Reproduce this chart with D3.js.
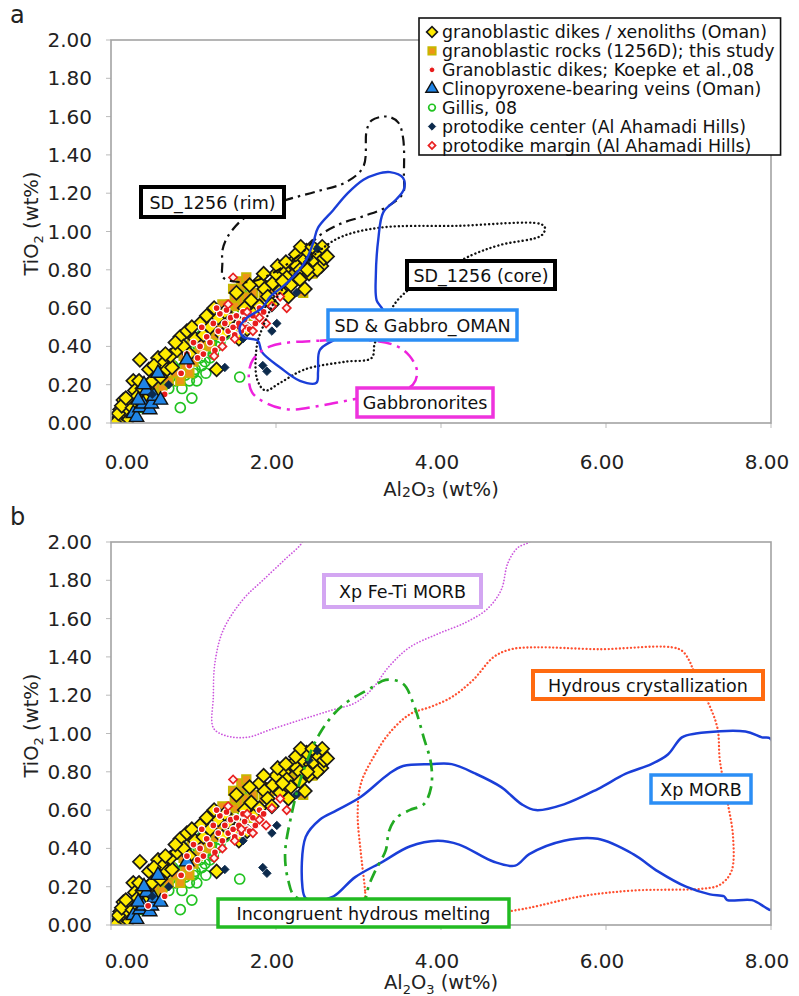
<!DOCTYPE html>
<html>
<head>
<meta charset="utf-8">
<script src="https://cdnjs.cloudflare.com/ajax/libs/d3/7.8.5/d3.min.js"></script>
<style>
  body { margin: 0; background: #fff; }
  svg { display: block; font-family: "DejaVu Sans", Verdana, sans-serif; }
</style>
</head>
<body>
<svg id="chart" width="799" height="996"></svg>
<script>
// ---- data: [Al2O3 wt%, TiO2 wt%] ----
const omanDikes = [[0.08,0.01],[0.10,0.03],[0.12,0.02],[0.14,0.05],[0.11,0.07],[0.17,0.08],[0.19,0.04],[0.21,0.06],
  [0.15,0.12],[0.24,0.10],[0.27,0.22],[0.29,0.17],[0.35,0.33],[0.32,0.14],[0.38,0.18],[0.42,0.12],[0.45,0.20],
  [0.50,0.22],[0.57,0.34],[0.63,0.31],[0.55,0.26],[0.60,0.24],[0.68,0.28],[0.74,0.29],[0.72,0.35],[0.80,0.38],
  [0.84,0.45],[0.92,0.48],[0.88,0.40],[0.95,0.36],[1.02,0.44],[1.08,0.52],[1.12,0.46],[1.20,0.50],[1.28,0.28],
  [1.30,0.55],[1.38,0.58],[1.45,0.52],[1.48,0.49],[1.56,0.52],[1.62,0.60],[1.65,0.49],[1.70,0.64],[1.75,0.58],
  [1.80,0.61],[1.80,0.74],[1.86,0.70],[1.90,0.66],[1.96,0.73],[2.00,0.78],[2.05,0.69],[2.10,0.80],[2.13,0.76],
  [2.18,0.72],[2.20,0.84],[2.25,0.82],[2.29,0.80],[2.29,0.75],[2.33,0.86],[2.37,0.90],[2.40,0.78],[2.42,0.84],
  [2.45,0.85],[2.49,0.90],[2.52,0.88],[2.55,0.82],[2.58,0.86],[2.62,0.87],[2.35,0.70],[2.15,0.66],[1.95,0.62],
  [1.55,0.44],[1.35,0.46],[0.05,0.00],[0.09,0.05],[0.13,0.09],[0.18,0.13],[0.22,0.02],[0.26,0.08],[0.34,0.22],
  [0.46,0.28],[0.52,0.30],[0.66,0.36],[0.78,0.42],[0.98,0.50],[1.16,0.56],[1.25,0.60],[1.52,0.68],[1.68,0.72],
  [1.85,0.78],[2.02,0.82],[2.08,0.74],[2.24,0.88],[2.30,0.92],[2.44,0.92],[2.50,0.80],[2.56,0.92],[2.38,0.80],
  [2.12,0.84]];
const rocks1256D = [[0.20,0.06],[0.30,0.10],[0.40,0.12],[0.50,0.16],[0.55,0.20],[0.62,0.18],[0.70,0.22],[0.78,0.26],
  [0.84,0.22],[0.90,0.30],[0.95,0.26],[1.00,0.32],[1.05,0.36],[1.08,0.38],[1.12,0.42],[1.20,0.40],[1.25,0.46],
  [1.32,0.50],[1.40,0.54],[1.45,0.62],[1.50,0.66],[1.52,0.61],[1.55,0.70],[1.56,0.69],[1.60,0.64],[1.62,0.72],
  [1.65,0.66],[1.68,0.60],[1.70,0.56],[1.78,0.62],[1.85,0.66],[1.95,0.70],[2.05,0.74],[2.15,0.78],[2.22,0.76],
  [2.30,0.82],[2.33,0.68],[2.40,0.84],[2.48,0.86],[2.53,0.90],[2.58,0.88],[0.72,0.30],[0.88,0.35],[1.18,0.48],
  [1.42,0.58],[1.58,0.74],[1.64,0.76],[1.48,0.70],[1.72,0.68],[1.90,0.72],[2.10,0.70],[2.26,0.80],[2.44,0.78],
  [0.98,0.44],[1.28,0.52],[0.60,0.26],[0.46,0.14],[1.35,0.62],[2.36,0.88]];
const koepke08 = [[0.65,0.15],[0.45,0.10],[0.85,0.26],[0.95,0.30],[1.05,0.34],[1.08,0.40],[1.12,0.36],[1.16,0.45],
  [1.20,0.42],[1.24,0.52],[1.26,0.38],[1.30,0.48],[1.32,0.57],[1.35,0.44],[1.38,0.52],[1.40,0.59],[1.42,0.48],
  [1.45,0.55],[1.48,0.50],[1.50,0.46],[1.52,0.56],[1.55,0.52],[1.58,0.48],[1.60,0.58],[1.62,0.54],[1.65,0.50],
  [1.68,0.49],[1.72,0.56],[1.75,0.52],[1.80,0.60],[1.85,0.58],[1.10,0.50],[1.28,0.60],[1.00,0.42],[0.92,0.36]];
const cpxVeins = [[0.27,0.05],[0.31,0.03],[0.35,0.08],[0.39,0.10],[0.43,0.17],[0.47,0.07],[0.49,0.10],[0.52,0.14],
  [0.57,0.26],[0.60,0.12],[0.92,0.33],[0.40,0.20],[0.33,0.12]];
const gillis08 = [[0.20,0.08],[0.25,0.12],[0.30,0.10],[0.35,0.15],[0.40,0.14],[0.45,0.18],[0.50,0.20],[0.55,0.17],
  [0.58,0.22],[0.62,0.25],[0.65,0.20],[0.68,0.28],[0.72,0.24],[0.75,0.30],[0.78,0.22],[0.80,0.32],[0.84,0.08],
  [0.85,0.28],[0.88,0.36],[0.90,0.25],[0.92,0.40],[0.95,0.32],[0.98,0.13],[1.00,0.38],[1.02,0.28],[1.04,0.22],
  [1.05,0.42],[1.08,0.34],[1.10,0.30],[1.12,0.44],[1.15,0.38],[1.18,0.46],[1.20,0.34],[1.22,0.42],[1.25,0.48],
  [1.28,0.40],[1.30,0.45],[1.34,0.50],[1.38,0.46],[1.42,0.52],[1.48,0.58],[1.52,0.64],[1.56,0.24],[1.58,0.68],
  [1.62,0.70],[0.70,0.18],[0.95,0.22],[1.15,0.26],[0.60,0.30],[0.28,0.05],[0.38,0.08],[0.48,0.12],[0.52,0.25],
  [0.66,0.32],[0.70,0.34],[0.82,0.28],[0.86,0.18],[0.92,0.30],[1.00,0.26],[1.06,0.40],[1.10,0.46],[1.14,0.32],
  [1.24,0.36],[1.32,0.42],[1.36,0.54],[1.45,0.50],[1.50,0.60],[1.55,0.62],[1.60,0.66]];
const protoCenter = [[2.01,0.52],[1.95,0.48],[1.60,0.44],[1.84,0.30],[1.89,0.27],[1.38,0.29],[2.25,0.68],[2.50,0.91],
  [0.50,0.15],[0.70,0.20],[2.40,0.86]];
const protoMargin = [[1.48,0.76],[2.13,0.60],[1.95,0.61],[1.72,0.48],[1.80,0.55],[1.65,0.58],[1.58,0.50],[1.50,0.44],
  [1.35,0.40],[1.25,0.35],[1.42,0.62],[2.05,0.66],[1.88,0.52]];

// envelopes, panel a
const sd1256Rim = [[1.69,1.09],[2.09,1.16],[2.50,1.21],[2.86,1.26],[3.06,1.34],[3.10,1.53],[3.16,1.58],[3.35,1.60],
  [3.48,1.57],[3.54,1.49],[3.55,1.29],[3.54,1.20],[3.35,1.13],[3.06,1.08],[2.78,1.04],[2.53,0.98],[2.29,0.88],
  [1.99,0.79],[1.72,0.74],[1.48,0.74],[1.36,0.76],[1.35,0.84],[1.35,0.90],[1.41,0.97],[1.56,1.05]];
const sd1256Core = [[1.83,0.49],[1.99,0.64],[2.17,0.75],[2.50,0.89],[2.78,0.97],[3.26,1.02],[4.23,1.03],[5.20,1.04],
  [5.26,1.02],[5.22,0.98],[4.72,0.93],[4.39,0.88],[3.99,0.79],[3.62,0.70],[3.42,0.61],[3.32,0.49],[3.20,0.42],
  [3.16,0.34],[2.84,0.32],[2.35,0.28],[2.05,0.21],[1.87,0.17],[1.77,0.23],[1.77,0.41]];
const sdGabbroOman = [[3.22,1.30],[3.38,1.31],[3.54,1.28],[3.55,1.22],[3.44,1.16],[3.30,1.10],[3.24,0.96],[3.21,0.77],
  [3.22,0.64],[3.30,0.58],[3.02,0.49],[2.69,0.43],[2.53,0.38],[2.51,0.27],[2.49,0.21],[2.29,0.22],[2.05,0.29],
  [1.83,0.37],[1.78,0.43],[1.60,0.45],[1.56,0.50],[1.65,0.55],[1.83,0.60],[1.93,0.66],[2.13,0.73],[2.35,0.84],
  [2.45,0.94],[2.51,1.02],[2.69,1.11],[2.87,1.20],[3.06,1.27]];
const gabbronorites = [[1.93,0.40],[2.53,0.43],[3.18,0.43],[3.47,0.40],[3.62,0.35],[3.71,0.27],[3.66,0.20],[3.44,0.16],
  [2.90,0.12],[2.53,0.09],[2.17,0.07],[1.90,0.10],[1.71,0.16],[1.67,0.25],[1.72,0.33]];
// envelopes, panel b
const xpFeTiMorb = [[2.41,2.12],[2.32,2.00],[2.11,1.91],[1.84,1.80],[1.60,1.70],[1.36,1.54],[1.26,1.37],[1.24,1.19],
  [1.24,1.03],[1.38,0.99],[1.65,0.98],[1.93,1.02],[2.29,1.07],[2.66,1.12],[2.96,1.16],[3.16,1.23],[3.37,1.35],
  [3.62,1.45],[3.96,1.52],[4.30,1.58],[4.56,1.65],[4.73,1.75],[4.81,1.89],[4.93,1.97],[5.07,2.00],[5.20,2.06],
  [4.00,2.15]];
const hydrousCryst = [[3.10,0.05],[3.08,0.18],[3.03,0.37],[2.99,0.58],[3.03,0.74],[3.20,0.89],[3.37,1.00],[3.62,1.10],
  [3.88,1.14],[4.13,1.19],[4.39,1.28],[4.64,1.40],[4.85,1.44],[5.15,1.45],[5.90,1.44],[6.89,1.44],[7.01,1.38],
  [7.04,1.35],[7.21,1.19],[7.35,1.03],[7.38,0.86],[7.47,0.65],[7.54,0.46],[7.52,0.28],[7.38,0.21],[7.18,0.19],
  [6.33,0.18],[5.70,0.15],[5.07,0.09],[4.79,0.07],[4.11,0.04],[3.26,0.02]];
const xpMorb = [[2.32,0.20],[2.36,0.46],[2.53,0.55],[2.74,0.60],[3.03,0.67],[3.37,0.79],[3.54,0.83],[3.88,0.84],
  [4.13,0.84],[4.42,0.79],[4.73,0.72],[4.98,0.63],[5.15,0.60],[5.49,0.63],[5.90,0.71],[6.24,0.79],[6.55,0.84],
  [6.75,0.89],[6.92,0.98],[7.09,1.00],[7.69,1.01],[7.89,0.98],[8.00,0.97],[8.00,0.08],[7.94,0.09],[7.77,0.13],
  [7.47,0.13],[7.43,0.15],[7.26,0.16],[6.97,0.20],[6.63,0.28],[6.33,0.37],[5.90,0.45],[5.49,0.44],[5.07,0.37],
  [4.90,0.31],[4.64,0.33],[4.22,0.42],[3.96,0.44],[3.62,0.41],[3.29,0.33],[2.96,0.25],[2.70,0.15],[2.53,0.13],
  [2.36,0.14]];
const incongruentMelt = [[3.33,1.28],[3.54,1.26],[3.67,1.15],[3.79,0.98],[3.88,0.84],[3.88,0.72],[3.79,0.63],[3.62,0.60],
  [3.46,0.56],[3.37,0.49],[3.33,0.39],[3.20,0.28],[3.12,0.20],[3.08,0.14],[2.66,0.10],[2.23,0.15],[2.15,0.23],
  [2.11,0.37],[2.19,0.58],[2.32,0.79],[2.53,1.00],[2.79,1.14],[3.16,1.24]];

const xTicks = [0, 2, 4, 6, 8];
const yTicks = [0, 0.2, 0.4, 0.6, 0.8, 1.0, 1.2, 1.4, 1.6, 1.8, 2.0];

const legendLabels = [
  "granoblastic dikes / xenoliths (Oman)",
  "granoblastic rocks (1256D); this study",
  "Granoblastic dikes; Koepke et al.,08",
  "Clinopyroxene-bearing veins (Oman)",
  "Gillis, 08",
  "protodike center (Al Ahamadi Hills)",
  "protodike margin (Al Ahamadi Hills)"
];

// ---- styles ----
const markerStyle = {
  omanDikes:   { type: "diamond", size: 96, fill: "#ffeb00", stroke: "#1a1a1a", sw: 1.7 },
  rocks1256D:  { type: "square",  size: 72, fill: "#ee9418", stroke: "#c6b800", sw: 1.8 },
  koepke08:    { type: "circle",  size: 38, fill: "#e81c1c", stroke: "#ffffff", sw: 1.3 },
  cpxVeins:    { type: "triangle", size: 88, fill: "#1f84e6", stroke: "#111", sw: 1.4 },
  gillis08:    { type: "circle",  size: 78, fill: "none", stroke: "#22c322", sw: 1.7 },
  protoCenter: { type: "diamond", size: 36, fill: "#0c2a4c", stroke: "#0c2a4c", sw: 0.8 },
  protoMargin: { type: "diamond", size: 34, fill: "#fff0f0", stroke: "#e82020", sw: 1.7 }
};
const seriesData = { omanDikes, rocks1256D, koepke08, cpxVeins, gillis08, protoCenter, protoMargin };
const legendOrder = ["omanDikes", "rocks1256D", "koepke08", "cpxVeins", "gillis08", "protoCenter", "protoMargin"];

const symbolFor = t => t === "square" || t === "diamond" ? d3.symbolSquare
  : t === "triangle" ? d3.symbolTriangle : d3.symbolCircle;

const x = d3.scaleLinear().domain([0, 8]).range([111, 771]);
const svg = d3.select("#chart");

const panels = [
  {
    name: "a", top: 40, bottom: 423, subAxis: false, tickGap: 46, titleGap: 73,
    order: ["gillis08", "rocks1256D", "omanDikes", "koepke08", "cpxVeins", "protoCenter", "protoMargin"],
    envelopes: [
      { pts: sd1256Rim, color: "#111", width: 2.2, dash: "10,5,2.5,5" },
      { pts: sd1256Core, color: "#111", width: 2.4, dash: "0.1,4", cap: "round" },
      { pts: sdGabbroOman, color: "#1a3ed8", width: 2.4, dash: null },
      { pts: gabbronorites, color: "#ee22dd", width: 2.5, dash: "14,6,3,6" }
    ],
    labels: [
      { text: "SD_1256 (rim)", x: 141, y: 187, w: 143, h: 30, color: "#000", bw: 4 },
      { text: "SD_1256 (core)", x: 407, y: 261, w: 148, h: 28, color: "#000", bw: 4 },
      { text: "SD & Gabbro_OMAN", x: 328, y: 310, w: 189, h: 30, color: "#2b8ef5", bw: 3.5 },
      { text: "Gabbronorites", x: 357, y: 388, w: 136, h: 29, color: "#ee33dd", bw: 3.5 }
    ]
  },
  {
    name: "b", top: 542, bottom: 925, subAxis: true, tickGap: 43, titleGap: 64,
    order: ["gillis08", "rocks1256D", "omanDikes", "cpxVeins", "protoCenter", "koepke08", "protoMargin"],
    envelopes: [
      { pts: xpFeTiMorb, color: "#cc55dd", width: 1.7, dash: "0.1,3", cap: "round" },
      { pts: hydrousCryst, color: "#ff5030", width: 2.3, dash: "0.1,3.6", cap: "round" },
      { pts: xpMorb, color: "#1a3ed8", width: 2.5, dash: null },
      { pts: incongruentMelt, color: "#22aa22", width: 2.7, dash: "12,6,3,6" }
    ],
    labels: [
      { text: "Xp Fe-Ti MORB", x: 324, y: 575, w: 157, h: 32, color: "#d3a6f2", bw: 4 },
      { text: "Hydrous crystallization", x: 533, y: 671, w: 230, h: 28, color: "#ff6a10", bw: 4 },
      { text: "Xp MORB", x: 651, y: 775, w: 100, h: 28, color: "#2b8ef5", bw: 3.5 },
      { text: "Incongruent hydrous melting", x: 218, y: 899, w: 291, h: 28, color: "#22bb22", bw: 3.5 }
    ]
  }
];

function drawMarkers(g, data, st, xf, yf) {
  const sym = d3.symbol().type(symbolFor(st.type)).size(st.size);
  g.selectAll(null)
    .data(data)
    .enter()
    .append("path")
    .attr("d", sym)
    .attr("transform", d => `translate(${xf(d)},${yf(d)})` + (st.type === "diamond" ? " rotate(45)" : ""))
    .attr("fill", st.fill)
    .attr("stroke", st.stroke)
    .attr("stroke-width", st.sw);
}

panels.forEach((p, i) => {
  const y = d3.scaleLinear().domain([0, 2]).range([p.bottom, p.top]);
  const g = svg.append("g").attr("class", "panel-" + p.name);

  svg.append("clipPath").attr("id", "clip" + i)
    .append("rect")
    .attr("x", x(0)).attr("y", y(2))
    .attr("width", x(8) - x(0)).attr("height", y(0) - y(2));

  // ticks
  g.selectAll(".yt").data(yTicks).enter().append("line")
    .attr("x1", x(0) - 5).attr("x2", x(0))
    .attr("y1", d => y(d)).attr("y2", d => y(d))
    .attr("stroke", "#bbb").attr("stroke-width", 1);
  g.selectAll(".xt").data(xTicks).enter().append("line")
    .attr("x1", d => x(d)).attr("x2", d => x(d))
    .attr("y1", y(0)).attr("y2", y(0) + 5)
    .attr("stroke", "#bbb").attr("stroke-width", 1);

  // tick labels
  g.selectAll(".yl").data(yTicks).enter().append("text")
    .attr("x", 92).attr("y", d => y(d) + 7)
    .attr("text-anchor", "end")
    .attr("font-size", 20).attr("fill", "#222")
    .text(d => d3.format(".2f")(d));
  g.selectAll(".xl").data(xTicks).enter().append("text")
    .attr("x", d => d === 0 ? x(d) + 16 : x(d) - 4)
    .attr("y", y(0) + p.tickGap)
    .attr("text-anchor", "middle")
    .attr("font-size", 20).attr("fill", "#222")
    .text(d => d3.format(".2f")(d));

  // axis titles
  const xt = g.append("text")
    .attr("x", (x(0) + x(8)) / 2).attr("y", y(0) + p.titleGap)
    .attr("text-anchor", "middle").attr("font-size", 19.5).attr("fill", "#222");
  const subSize = p.subAxis ? 13 : 14, subDy = p.subAxis ? 5 : 1;
  xt.append("tspan").text("Al");
  xt.append("tspan").attr("font-size", subSize).attr("dy", subDy).text("2");
  xt.append("tspan").attr("dy", -subDy).text("O");
  xt.append("tspan").attr("font-size", subSize).attr("dy", subDy).text("3");
  xt.append("tspan").attr("dy", -subDy).text(" (wt%)");

  const cy = (y(0) + y(2)) / 2 - 8;
  const yt = g.append("text")
    .attr("transform", `translate(38,${cy}) rotate(-90)`)
    .attr("text-anchor", "middle").attr("font-size", 19.5).attr("fill", "#222");
  yt.append("tspan").text("TiO");
  yt.append("tspan").attr("font-size", 13).attr("dy", 5).text("2");
  yt.append("tspan").attr("dy", -5).text(" (wt%)");

  // panel letter
  g.append("text").attr("x", 10).attr("y", y(2) - 17)
    .attr("font-size", 24).attr("fill", "#222").text(p.name);

  // markers
  const mg = g.append("g").attr("clip-path", `url(#clip${i})`);
  p.order.forEach(k => drawMarkers(mg, seriesData[k], markerStyle[k], d => x(d[0]), d => y(d[1])));

  // envelopes
  const line = d3.line().x(d => x(d[0])).y(d => y(d[1])).curve(d3.curveCatmullRomClosed.alpha(0.5));
  const eg = g.append("g").attr("clip-path", `url(#clip${i})`);
  p.envelopes.forEach(e => {
    eg.append("path")
      .attr("d", line(e.pts))
      .attr("fill", "none")
      .attr("stroke", e.color)
      .attr("stroke-width", e.width)
      .attr("stroke-dasharray", e.dash)
      .attr("stroke-linecap", e.cap || "butt")
      .attr("stroke-linejoin", "round");
  });

  // frame
  g.append("rect")
    .attr("x", x(0)).attr("y", y(2))
    .attr("width", x(8) - x(0)).attr("height", y(0) - y(2))
    .attr("fill", "none").attr("stroke", "#a3a3a3").attr("stroke-width", 1.6);

  // annotation boxes
  p.labels.forEach(l => {
    g.append("rect")
      .attr("x", l.x).attr("y", l.y).attr("width", l.w).attr("height", l.h)
      .attr("fill", "#fff").attr("stroke", l.color).attr("stroke-width", l.bw);
    g.append("text")
      .attr("x", l.x + l.w / 2).attr("y", l.y + l.h / 2 + 6.5)
      .attr("text-anchor", "middle")
      .attr("font-size", 17.5).attr("fill", "#111")
      .text(l.text);
  });
});

// legend
const lg = svg.append("g").attr("class", "legend");
const legBox = lg.append("rect")
  .attr("x", 419).attr("y", 18).attr("height", 137)
  .attr("fill", "#fff").attr("stroke", "#111").attr("stroke-width", 1.6);
let maxRight = 0;
legendOrder.forEach((k, i) => {
  const cy = 32 + i * 18.9;
  const st = markerStyle[k];
  const small = Object.assign({}, st, { size: st.size * (k === "omanDikes" ? 0.6 : k === "gillis08" ? 0.45 : 0.75) });
  drawMarkers(lg, [[0, 0]], small, () => 432, () => cy);
  const t = lg.append("text")
    .attr("x", 442).attr("y", cy + 6.2)
    .attr("font-size", 17.4).attr("fill", "#111")
    .text(legendLabels[i]);
  maxRight = Math.max(maxRight, 442 + t.node().getComputedTextLength());
});
legBox.attr("width", Math.min(maxRight + 6, 797) - 419);
</script>
</body>
</html>
